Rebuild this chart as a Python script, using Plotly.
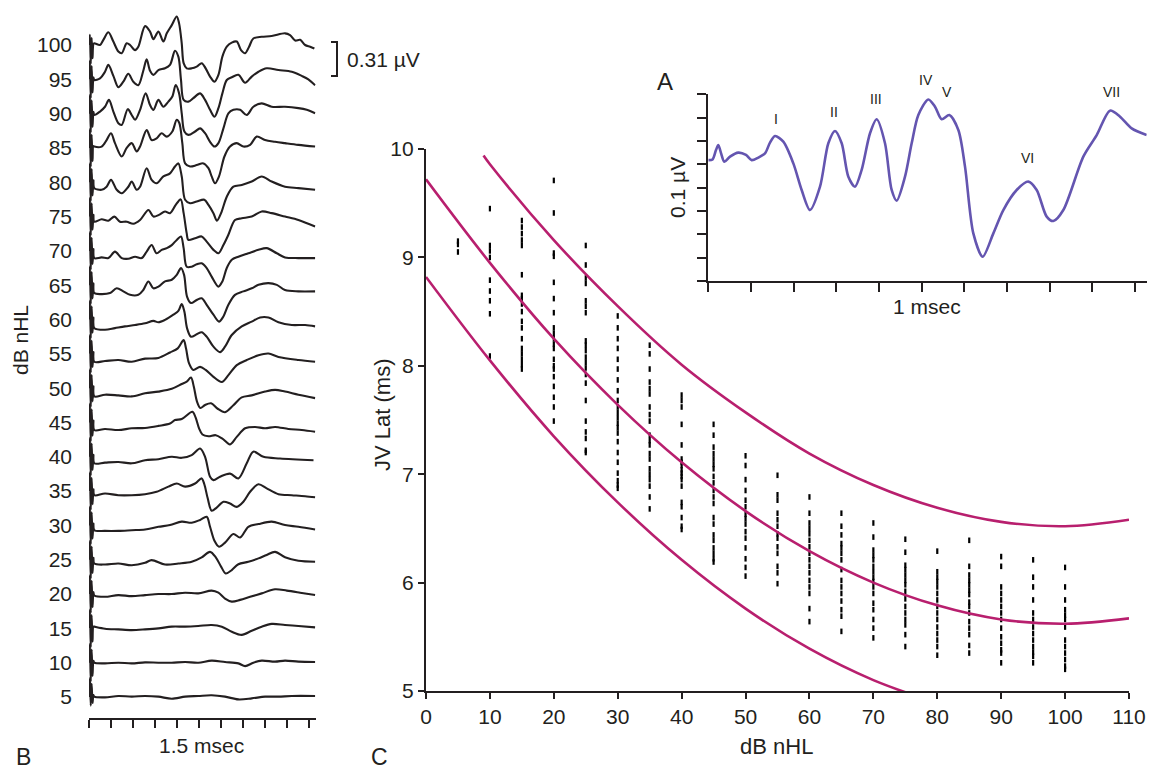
import plotly.graph_objects as go

# ---------------- Panel B : ABR waveforms (time in ms, amplitude in trace-spacing units ~0.31 uV) ----
levels_b = [5, 10, 15, 20, 25, 30, 35, 40, 45, 50, 55, 60, 65, 70, 75, 80, 85, 90, 95, 100]
b_ticks_ms = [0, 1.5, 3, 4.5, 6, 7.5, 9, 10.5, 12, 13.5, 15]

trace_100 = [(0.36,0.05),(0.75,0.0),(0.98,0.15),(1.32,0.37),(1.66,0.10),(2.0,-0.19),(2.23,-0.24),(2.57,0.05),(2.80,0.0),(3.14,-0.15),(3.36,-0.05),(3.82,0.55),(4.16,0.39),(4.39,0.17),(4.73,0.39),(5.07,0.10),(5.30,0.34),(5.64,0.58),(5.98,0.83),(6.14,0.63),(6.32,0.05),(6.45,-0.53),(6.66,-0.68),(7.0,-0.68),(7.34,-0.63),(7.68,-0.53),(7.95,-0.68),(8.25,-0.92),(8.55,-1.07),(8.82,-0.87),(9.09,-0.34),(9.39,-0.05),(9.73,0.07),(10.07,0.10),(10.36,-0.15),(10.64,-0.24),(10.91,-0.05),(11.20,0.19),(11.77,0.24),(12.45,0.26),(13.36,0.34),(13.70,0.29),(14.05,0.13),(14.39,0.15),(14.73,0.0),(15.07,-0.05),(15.36,-0.10)]
trace_95 = [(0.36,-0.02),(0.75,0.03),(1.09,0.22),(1.32,0.42),(1.66,0.10),(2.0,-0.23),(2.34,-0.07),(2.68,0.16),(3.02,-0.07),(3.36,-0.17),(3.70,0.25),(3.93,0.58),(4.16,0.25),(4.39,0.13),(4.73,0.27),(5.18,0.32),(5.52,0.42),(5.86,0.83),(6.09,0.66),(6.27,-0.02),(6.45,-0.60),(6.77,-0.65),(7.11,-0.55),(7.57,-0.41),(7.91,-0.60),(8.25,-0.89),(8.55,-1.09),(8.82,-0.84),(9.09,-0.41),(9.39,-0.02),(9.73,0.06),(10.18,0.13),(10.64,-0.10),(11.09,0.08),(11.55,0.22),(12.11,0.32),(12.91,0.27),(13.82,0.22),(14.50,0.10),(14.95,0.0),(15.41,-0.17)]
trace_90 = [(0.36,-0.04),(0.75,0.06),(1.09,0.20),(1.36,0.40),(1.66,0.06),(2.0,-0.28),(2.23,-0.33),(2.64,0.13),(2.91,-0.04),(3.14,-0.18),(3.48,0.11),(3.86,0.59),(4.16,0.25),(4.39,0.11),(4.73,0.40),(5.07,0.20),(5.41,0.35),(5.68,0.50),(5.91,0.83),(6.14,0.59),(6.32,0.01),(6.50,-0.52),(6.77,-0.62),(7.23,-0.52),(7.57,-0.43),(7.91,-0.57),(8.25,-0.82),(8.55,-0.96),(8.82,-0.86),(9.16,-0.43),(9.50,0.01),(9.84,0.11),(10.30,0.11),(10.75,-0.04),(11.20,0.20),(11.77,0.30),(12.45,0.20),(13.36,0.20),(14.27,0.16),(14.84,0.11),(15.41,0.01)]
trace_85 = [(0.36,0.04),(0.86,0.04),(1.20,0.23),(1.50,0.43),(1.77,0.14),(2.23,-0.25),(2.57,0.0),(2.91,0.14),(3.25,-0.10),(3.48,0.04),(3.93,0.52),(4.27,0.23),(4.61,0.28),(4.95,0.43),(5.30,0.33),(5.68,0.48),(5.98,0.82),(6.16,0.72),(6.36,0.14),(6.55,-0.45),(6.89,-0.54),(7.34,-0.50),(7.80,-0.45),(8.14,-0.59),(8.36,-0.83),(8.59,-1.03),(8.86,-0.83),(9.23,-0.25),(9.61,0.04),(10.07,0.14),(10.52,0.04),(10.98,0.09),(11.43,0.33),(12.0,0.23),(12.68,0.18),(13.36,0.14),(14.27,0.09),(15.41,0.04)]
trace_80 = [(0.36,-0.17),(0.86,-0.22),(1.20,-0.13),(1.50,0.07),(1.89,-0.22),(2.23,-0.32),(2.68,-0.13),(2.91,0.02),(3.25,-0.22),(3.48,-0.13),(3.93,0.41),(4.27,0.07),(4.61,-0.03),(5.07,0.17),(5.52,0.26),(5.86,0.46),(6.09,0.55),(6.32,0.17),(6.55,-0.51),(6.89,-0.61),(7.34,-0.56),(7.86,-0.51),(8.14,-0.66),(8.48,-0.90),(8.72,-1.12),(9.0,-0.90),(9.39,-0.42),(9.84,-0.13),(10.41,-0.08),(11.09,0.02),(11.77,0.17),(12.45,0.02),(13.36,-0.13),(14.27,-0.17),(15.41,-0.22)]
trace_75 = [(0.36,-0.15),(0.86,-0.08),(1.32,-0.12),(1.73,0.0),(2.11,-0.15),(2.57,-0.15),(3.02,-0.21),(3.48,-0.10),(4.05,0.19),(4.39,0.0),(4.77,0.05),(5.18,0.15),(5.52,0.10),(5.91,0.34),(6.25,0.50),(6.45,0.10),(6.66,-0.49),(6.77,-0.68),(7.23,-0.63),(7.68,-0.58),(8.02,-0.73),(8.48,-0.97),(8.82,-1.07),(9.16,-0.83),(9.50,-0.53),(9.95,-0.10),(10.41,-0.05),(11.09,0.0),(11.77,0.15),(12.45,0.10),(13.36,0.0),(14.27,-0.10),(15.41,-0.29)]
trace_70 = [(0.36,-0.21),(0.86,-0.19),(1.32,-0.21),(1.77,-0.02),(2.23,-0.21),(2.68,-0.23),(3.14,-0.17),(3.59,-0.21),(3.93,-0.02),(4.27,0.17),(4.61,-0.07),(4.95,0.03),(5.30,0.08),(5.64,0.17),(5.98,0.32),(6.27,0.42),(6.45,0.08),(6.66,-0.46),(7.0,-0.46),(7.34,-0.39),(7.68,-0.36),(8.02,-0.50),(8.36,-0.75),(8.82,-1.04),(9.09,-0.89),(9.39,-0.50),(9.73,-0.26),(10.18,-0.17),(10.86,-0.07),(11.55,0.03),(12.11,0.08),(12.80,-0.07),(13.36,-0.19),(14.27,-0.21),(15.41,-0.21)]
trace_65 = [(0.36,-0.23),(0.86,-0.26),(1.43,-0.23),(1.89,-0.09),(2.34,-0.18),(2.80,-0.28),(3.36,-0.28),(3.70,-0.14),(4.05,0.11),(4.39,-0.09),(4.73,-0.04),(5.18,0.11),(5.64,0.16),(5.98,0.30),(6.27,0.50),(6.48,0.30),(6.68,-0.33),(6.95,-0.52),(7.34,-0.43),(7.68,-0.38),(8.02,-0.57),(8.48,-0.86),(8.86,-1.06),(9.16,-0.91),(9.50,-0.57),(9.95,-0.28),(10.52,-0.18),(11.09,-0.09),(11.55,0.01),(12.23,0.06),(12.80,0.01),(13.36,-0.14),(14.27,-0.18),(15.41,-0.18)]
trace_60 = [(0.36,-0.25),(1.09,-0.30),(1.77,-0.25),(2.45,-0.20),(3.14,-0.16),(3.82,-0.11),(4.39,-0.04),(4.73,-0.08),(5.18,-0.01),(5.75,0.14),(6.09,0.25),(6.32,0.45),(6.50,0.23),(6.68,-0.25),(6.95,-0.50),(7.34,-0.43),(7.68,-0.37),(8.02,-0.50),(8.48,-0.79),(8.93,-0.95),(9.27,-0.79),(9.73,-0.45),(10.41,-0.20),(11.09,-0.06),(11.66,0.06),(12.23,0.06),(12.91,-0.08),(13.82,-0.16),(14.73,-0.16),(15.41,-0.20)]
trace_55 = [(0.36,-0.23),(1.09,-0.21),(2.0,-0.18),(2.91,-0.23),(3.82,-0.14),(4.73,-0.12),(5.52,0.04),(6.05,0.16),(6.45,0.40),(6.61,0.16),(6.82,-0.28),(7.11,-0.47),(7.57,-0.38),(7.95,-0.47),(8.48,-0.67),(9.05,-0.82),(9.50,-0.62),(10.07,-0.33),(10.75,-0.18),(11.55,-0.04),(12.23,0.01),(12.91,-0.09),(14.27,-0.18),(15.41,-0.23)]
trace_50 = [(0.36,-0.24),(1.09,-0.19),(2.0,-0.21),(2.91,-0.24),(3.82,-0.15),(4.73,-0.10),(5.64,-0.02),(6.32,0.12),(6.66,0.19),(6.95,0.31),(7.14,0.05),(7.36,-0.39),(7.59,-0.58),(7.91,-0.49),(8.32,-0.44),(8.77,-0.60),(9.27,-0.70),(9.84,-0.50),(10.41,-0.27),(11.09,-0.21),(12.0,-0.10),(12.68,-0.05),(13.36,-0.10),(14.27,-0.19),(15.41,-0.29)]
trace_45 = [(0.36,-0.22),(1.09,-0.19),(2.0,-0.22),(2.91,-0.17),(3.82,-0.16),(4.73,-0.10),(5.52,-0.03),(5.86,0.07),(6.32,0.10),(7.05,0.31),(7.27,0.14),(7.50,-0.17),(7.73,-0.35),(8.14,-0.40),(8.64,-0.37),(9.09,-0.47),(9.61,-0.64),(10.07,-0.42),(10.64,-0.17),(11.32,-0.13),(12.0,-0.17),(12.68,-0.13),(13.59,-0.19),(14.50,-0.22),(15.41,-0.27)]
trace_40 = [(0.36,-0.19),(1.09,-0.17),(2.0,-0.15),(2.91,-0.19),(3.82,-0.10),(4.73,-0.07),(5.64,0.0),(6.32,-0.03),(7.0,0.05),(7.57,0.24),(7.91,0.0),(8.25,-0.58),(8.48,-0.68),(8.93,-0.58),(9.61,-0.49),(10.18,-0.63),(10.75,-0.19),(11.20,0.15),(11.89,0.0),(13.02,-0.05),(15.30,-0.10)]
trace_35 = [(0.36,-0.12),(1.09,-0.07),(2.0,-0.12),(2.91,-0.12),(3.82,-0.09),(4.61,-0.02),(5.41,0.13),(5.98,0.22),(6.55,0.13),(7.23,0.22),(7.68,0.37),(7.86,0.20),(8.09,-0.21),(8.36,-0.57),(8.70,-0.48),(9.16,-0.31),(9.61,-0.36),(10.07,-0.46),(10.52,-0.31),(10.98,-0.02),(11.55,0.20),(12.11,0.08),(12.91,-0.09),(13.82,-0.12),(14.73,-0.15),(15.41,-0.18)]
trace_30 = [(0.36,-0.14),(1.09,-0.16),(2.0,-0.16),(2.91,-0.14),(3.82,-0.12),(4.73,-0.04),(5.52,0.01),(6.32,0.11),(7.0,0.08),(7.57,0.16),(8.02,0.25),(8.25,-0.04),(8.55,-0.45),(8.86,-0.62),(9.27,-0.50),(9.84,-0.25),(10.30,-0.35),(10.86,-0.04),(11.55,0.04),(12.45,0.11),(13.36,0.01),(14.27,-0.04),(15.41,-0.12)]
trace_25 = [(0.36,-0.11),(1.09,-0.14),(2.0,-0.11),(2.91,-0.16),(3.82,-0.09),(4.27,-0.01),(5.18,-0.14),(6.09,-0.11),(7.0,-0.06),(7.68,0.07),(8.25,0.23),(8.64,0.07),(9.0,-0.20),(9.32,-0.40),(9.73,-0.30),(10.18,-0.13),(10.86,-0.06),(11.55,0.04),(12.11,0.14),(12.68,0.23),(13.36,0.07),(14.27,-0.03),(15.41,-0.06)]
trace_20 = [(0.36,-0.04),(1.09,-0.08),(2.0,-0.03),(2.91,-0.06),(3.82,-0.03),(4.73,0.0),(5.64,0.0),(6.55,0.04),(7.45,0.02),(8.36,0.10),(8.82,0.04),(9.27,-0.13),(9.73,-0.22),(10.30,-0.17),(10.98,-0.08),(11.77,0.02),(12.68,0.14),(13.48,0.10),(14.39,0.04),(15.41,-0.03)]
trace_15 = [(0.36,0.05),(1.09,-0.01),(2.0,-0.03),(2.91,-0.05),(3.82,-0.03),(4.73,0.0),(5.64,0.05),(6.55,0.05),(7.45,0.07),(8.36,0.10),(9.05,0.05),(9.73,-0.10),(10.41,-0.19),(11.09,-0.07),(11.77,0.05),(12.45,0.13),(13.36,0.10),(14.27,0.07),(15.41,0.03)]
trace_10 = [(0.36,0.0),(1.09,-0.02),(2.0,0.0),(2.91,-0.02),(3.82,0.01),(4.73,0.0),(5.64,0.0),(6.55,0.02),(7.45,0.0),(8.36,0.06),(9.27,0.02),(10.18,-0.02),(10.64,-0.10),(11.20,0.0),(11.77,0.06),(12.68,0.03),(13.36,0.06),(14.27,0.03),(15.41,0.02)]
trace_5 = [(0.36,0.01),(1.09,-0.01),(2.0,0.03),(2.91,0.01),(3.82,0.03),(4.73,0.01),(5.64,-0.05),(6.55,0.01),(7.45,0.03),(8.36,0.05),(9.27,0.01),(10.18,-0.07),(11.09,-0.04),(12.0,0.01),(12.91,0.01),(13.82,0.03),(15.41,0.03)]

b_traces = [trace_5, trace_10, trace_15, trace_20, trace_25, trace_30, trace_35, trace_40, trace_45,
            trace_50, trace_55, trace_60, trace_65, trace_70, trace_75, trace_80, trace_85, trace_90,
            trace_95, trace_100]

# stimulus artifact at the start of every trace (time ms, relative amplitude)
artifact_t = [0.0, 0.06, 0.12, 0.18, 0.24, 0.30]
artifact_shape = [0.0, 1.0, -1.0, 0.7, -0.7, 0.1]
artifact_up = [0.55] * 19 + [0.30]
artifact_down = [0.25] + [0.55] * 19

# ---------------- Panel A : single ABR (ms, uV) ----------------
a_t = [0.0, 0.10, 0.18, 0.235, 0.30, 0.376, 0.509, 0.704, 0.884, 1.016, 1.172, 1.329, 1.446, 1.563, 1.758,
       1.993, 2.188, 2.383, 2.618, 2.813, 2.969, 3.126, 3.282, 3.438, 3.594, 3.790, 3.946, 4.141, 4.297,
       4.415, 4.610, 4.766, 4.922, 5.157, 5.313, 5.469, 5.649, 5.860, 6.016, 6.211, 6.430, 6.680, 6.914,
       7.227, 7.500, 7.696, 7.930, 8.086, 8.320, 8.789, 9.102, 9.414, 9.649, 9.922, 10.274]
a_uv = [0.518, 0.521, 0.561, 0.583, 0.547, 0.511, 0.533, 0.550, 0.540, 0.518, 0.529, 0.547, 0.593, 0.621,
        0.597, 0.504, 0.390, 0.304, 0.404, 0.590, 0.643, 0.590, 0.447, 0.404, 0.476, 0.633, 0.693, 0.590,
        0.390, 0.344, 0.447, 0.590, 0.711, 0.778, 0.747, 0.693, 0.711, 0.647, 0.490, 0.204, 0.104, 0.204,
        0.304, 0.390, 0.426, 0.390, 0.276, 0.257, 0.304, 0.533, 0.625, 0.730, 0.704, 0.654, 0.625]
peak_names = ["I", "II", "III", "IV", "V", "VI", "VII"]
peak_t = [1.58, 2.946, 3.92, 5.10, 5.59, 7.485, 9.44]
peak_uv = [0.693, 0.723, 0.78, 0.861, 0.808, 0.526, 0.808]

# ---------------- Panel C : wave V latency vs level ----------------
lat_05 = [9.15, 9.12, 9.05]
lat_10 = [9.45, 9.11, 9.06, 9.00, 8.79, 8.69, 8.60, 8.48, 8.09]
lat_15 = [9.34, 9.28, 9.22, 9.16, 9.11, 8.84, 8.65, 8.62, 8.57, 8.50, 8.41, 8.35, 8.25, 8.16, 8.11, 8.06, 8.01, 7.97]
lat_20 = [9.71, 9.41, 9.04, 9.01, 8.77, 8.62, 8.49, 8.35, 8.30, 8.25, 8.20, 8.16, 8.06, 8.00, 7.97, 7.90, 7.81, 7.71, 7.62, 7.49]
lat_25 = [9.11, 8.93, 8.81, 8.76, 8.60, 8.55, 8.49, 8.23, 8.19, 8.14, 8.08, 8.03, 7.98, 7.92, 7.84, 7.68, 7.49, 7.39, 7.33, 7.22, 7.20]
lat_30 = [8.46, 8.35, 8.25, 8.16, 8.06, 7.97, 7.87, 7.77, 7.68, 7.62, 7.57, 7.52, 7.47, 7.43, 7.38, 7.30, 7.20, 7.11, 7.01, 6.94, 6.90, 6.87]
lat_35 = [8.19, 8.11, 7.97, 7.85, 7.79, 7.74, 7.62, 7.55, 7.49, 7.36, 7.31, 7.27, 7.19, 7.14, 7.05, 7.00, 6.95, 6.89, 6.79, 6.68]
lat_40 = [7.73, 7.68, 7.62, 7.46, 7.27, 7.14, 7.11, 7.08, 7.04, 7.01, 6.98, 6.95, 6.89, 6.74, 6.70, 6.60, 6.52, 6.49]
lat_45 = [7.46, 7.36, 7.25, 7.19, 7.14, 7.09, 7.05, 6.98, 6.92, 6.85, 6.79, 6.73, 6.60, 6.54, 6.44, 6.39, 6.32, 6.27, 6.22, 6.19]
lat_50 = [7.17, 7.08, 6.95, 6.85, 6.76, 6.70, 6.63, 6.59, 6.54, 6.47, 6.41, 6.32, 6.22, 6.14, 6.06]
lat_55 = [6.99, 6.81, 6.76, 6.64, 6.58, 6.52, 6.45, 6.41, 6.33, 6.27, 6.15, 6.09, 5.99]
lat_60 = [6.79, 6.64, 6.55, 6.50, 6.45, 6.39, 6.33, 6.27, 6.21, 6.15, 6.09, 6.02, 5.96, 5.90, 5.76, 5.64]
lat_65 = [6.64, 6.52, 6.44, 6.36, 6.32, 6.27, 6.21, 6.12, 6.02, 5.96, 5.90, 5.83, 5.75, 5.69, 5.55]
lat_70 = [6.55, 6.42, 6.30, 6.25, 6.21, 6.15, 6.10, 6.05, 6.01, 5.96, 5.90, 5.81, 5.75, 5.66, 5.58, 5.49]
lat_75 = [6.40, 6.28, 6.16, 6.12, 6.07, 6.02, 5.98, 5.92, 5.85, 5.78, 5.72, 5.66, 5.61, 5.52, 5.41]
lat_80 = [6.29, 6.10, 6.05, 6.01, 5.96, 5.90, 5.84, 5.78, 5.72, 5.66, 5.59, 5.53, 5.47, 5.41, 5.33]
lat_85 = [6.39, 6.15, 6.07, 6.02, 5.98, 5.93, 5.89, 5.82, 5.78, 5.72, 5.64, 5.58, 5.52, 5.42, 5.35]
lat_90 = [6.24, 6.15, 5.96, 5.90, 5.84, 5.78, 5.72, 5.66, 5.58, 5.50, 5.44, 5.38, 5.35, 5.26]
lat_95 = [6.21, 6.05, 5.96, 5.84, 5.72, 5.66, 5.59, 5.53, 5.47, 5.41, 5.36, 5.32, 5.26]
lat_100 = [6.14, 5.96, 5.84, 5.75, 5.70, 5.66, 5.59, 5.47, 5.41, 5.35, 5.29, 5.23, 5.20]
levels_c = [5, 10, 15, 20, 25, 30, 35, 40, 45, 50, 55, 60, 65, 70, 75, 80, 85, 90, 95, 100]
lat_cols = [lat_05, lat_10, lat_15, lat_20, lat_25, lat_30, lat_35, lat_40, lat_45, lat_50,
            lat_55, lat_60, lat_65, lat_70, lat_75, lat_80, lat_85, lat_90, lat_95, lat_100]

fit_x = [0, 10, 20, 30, 40, 50, 60, 70, 80, 90, 100, 110]
fit_mid = [9.72, 8.95, 8.25, 7.64, 7.11, 6.66, 6.29, 6.00, 5.79, 5.66, 5.62, 5.67]
upper_x = [9, 10, 20, 30, 40, 50, 60, 70, 80, 90, 100, 110]
fit_upper = [9.94, 9.86, 9.16, 8.55, 8.01, 7.57, 7.19, 6.90, 6.69, 6.56, 6.52, 6.58]
lower_x = [0, 10, 20, 30, 40, 50, 60, 70, 80]
fit_lower = [8.82, 8.05, 7.35, 6.74, 6.21, 5.76, 5.39, 5.10, 4.89]

# ---------------- styling ----------------
W, H = 1151, 773
FONT = "Liberation Sans, Arial, Helvetica, sans-serif"
INK = "#231f20"
MAGENTA = "#b81f6e"
PURPLE = "#6455b0"


def px(x):
    return x / W


def py(y):
    return 1 - y / H


# subplot geometry (pixels in the 1151x773 canvas)
B_X0, B_X1, B_TOP, B_BOT = 89, 315.7, 8, 718
B_ZERO, B_STEP = 697, 34.316
A_X0, A_X1, A_TOP, A_BOT = 708.3, 1146.7, 94.3, 281
A_XMAX, A_YMAX = 10.274, 0.8

fig = go.Figure()

# Panel B traces
for k, tr in enumerate(b_traces):
    art = [s * (artifact_up[k] if s > 0 else artifact_down[k]) for s in artifact_shape]
    ts = artifact_t + [p[0] for p in tr]
    amps = art + [p[1] for p in tr]
    fig.add_trace(go.Scatter(x=ts, y=[k + a for a in amps], mode="lines",
                             line=dict(color=INK, width=2.1, shape="spline", smoothing=0.9),
                             xaxis="x", yaxis="y", hoverinfo="skip", showlegend=False))

# Panel C scatter
sx, sy = [], []
for lev, col in zip(levels_c, lat_cols):
    sx += [lev] * len(col)
    sy += col
fig.add_trace(go.Scatter(x=sx, y=sy, mode="markers",
                         marker=dict(symbol="line-ns", size=4, color="black",
                                     line=dict(width=2.2, color="black")),
                         xaxis="x2", yaxis="y2", showlegend=False))
for xs, ys in [(upper_x, fit_upper), (fit_x, fit_mid), (lower_x, fit_lower)]:
    fig.add_trace(go.Scatter(x=xs, y=ys, mode="lines",
                             line=dict(color=MAGENTA, width=2.6, shape="spline", smoothing=1.0),
                             xaxis="x2", yaxis="y2", showlegend=False))

# Panel A trace
fig.add_trace(go.Scatter(x=a_t, y=a_uv, mode="lines",
                         line=dict(color=PURPLE, width=2.6, shape="spline", smoothing=0.8),
                         xaxis="x3", yaxis="y3", showlegend=False))

ann = []
# peak labels placed through the inset's own scale (some sit above its top)
for name, t, v in zip(peak_names, peak_t, peak_uv):
    xp = px(A_X0) + t / A_XMAX * (px(A_X1) - px(A_X0))
    yp = py(A_BOT) + v / A_YMAX * (py(A_TOP) - py(A_BOT))
    ann.append(dict(x=xp, y=yp, xref="paper", yref="paper", text=name, showarrow=False,
                    xanchor="center", yanchor="middle", font=dict(size=14, color=INK)))


def label(text, x, y, size=21, angle=0, xanchor="center", yanchor="middle"):
    ann.append(dict(x=px(x), y=py(y), xref="paper", yref="paper", text=text, showarrow=False,
                    textangle=angle, xanchor=xanchor, yanchor=yanchor,
                    font=dict(size=size, color=INK)))


label("0.31 \u00b5V", 345, 59, xanchor="left")
label("dB nHL", 20, 340, angle=-90)
label("1.5 msec", 201, 745)
label("B", 23, 772, size=23, yanchor="bottom")
label("C", 380, 772, size=23, yanchor="bottom")
label("A", 665, 82, size=24)
label("JV Lat (ms)", 382, 415, size=22, angle=-90)
label("dB nHL", 776, 746, size=22)
label("0.1 \u00b5V", 677, 188, angle=-90)
label("1 msec", 927, 307)

shapes = [dict(type="path", xref="paper", yref="paper",
               path=f"M {px(331)},{py(42)} L {px(337)},{py(42)} L {px(337)},{py(76)} L {px(331)},{py(76)}",
               line=dict(color=INK, width=2))]

axis_common = dict(showgrid=False, zeroline=False, linecolor=INK, tickcolor=INK, automargin=False,
                   tickfont=dict(family=FONT, size=21, color=INK))

fig.update_layout(
    width=W, height=H, autosize=False, margin=dict(l=0, r=0, t=0, b=0, pad=0),
    paper_bgcolor="white", plot_bgcolor="rgba(0,0,0,0)",
    font=dict(family=FONT, color=INK),
    xaxis=dict(domain=[px(B_X0), px(B_X1)], range=[0, 15.45], anchor="y",
               tickvals=b_ticks_ms, ticks="outside", ticklen=8, tickwidth=1.5,
               showline=True, linewidth=1.5, showticklabels=False, **axis_common),
    yaxis=dict(domain=[py(B_BOT), py(B_TOP)],
               range=[(B_ZERO - B_BOT) / B_STEP, (B_ZERO - B_TOP) / B_STEP], anchor="x",
               tickvals=list(range(len(levels_b))), ticktext=[str(v) for v in levels_b],
               ticks="", showline=False, ticklabelstandoff=16, **axis_common),
    xaxis2=dict(domain=[px(426), px(1129)], range=[0, 110], anchor="y2", dtick=10,
                ticks="outside", ticklen=6, tickwidth=1.5, showline=True, linewidth=2.2,
                **axis_common),
    yaxis2=dict(domain=[py(691), py(149)], range=[5, 10], anchor="x2", dtick=1,
                ticks="outside", ticklen=6, tickwidth=1.5, showline=True, linewidth=2.2,
                **axis_common),
    xaxis3=dict(domain=[px(A_X0), px(A_X1)], range=[0, A_XMAX], anchor="y3", dtick=1,
                ticks="outside", ticklen=9, tickwidth=1.5, showline=True, linewidth=2.2,
                showticklabels=False, **axis_common),
    yaxis3=dict(domain=[py(A_BOT), py(A_TOP)], range=[0, A_YMAX], anchor="x3", dtick=0.1,
                ticks="outside", ticklen=9, tickwidth=1.5, showline=True, linewidth=2.2,
                showticklabels=False, **axis_common),
    annotations=ann, shapes=shapes,
)

fig.write_html("out.html", config={"displayModeBar": False, "responsive": False},
               post_script="document.body.style.margin='0';document.body.style.overflow='hidden';")
